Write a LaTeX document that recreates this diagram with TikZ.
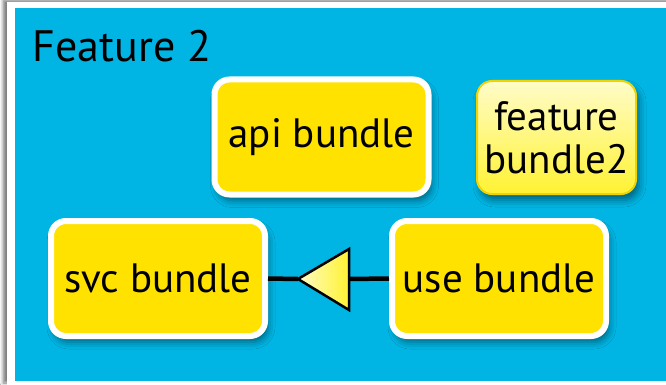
\documentclass[tikz,border=0pt]{standalone}
\usepackage{fontspec}
\setmainfont{PT Sans}
\usetikzlibrary{shadows.blur}
\definecolor{bgblue}{RGB}{0,181,228}
\definecolor{boxyellow}{RGB}{255,226,0}
\definecolor{paleyellow}{RGB}{255,252,200}
\definecolor{brightyellow}{RGB}{255,242,50}
\definecolor{edgeyellow}{RGB}{240,212,0}
\begin{document}
\begin{tikzpicture}[x=1pt,y=-1pt,
  bundle/.style={rectangle, rounded corners=15pt, draw=white, line width=6pt,
    fill=boxyellow, minimum width=214pt, minimum height=115pt, inner sep=0pt,
    font=\fontsize{41}{44}\selectfont,
    blur shadow={shadow xshift=3pt, shadow yshift=-6pt, shadow blur radius=7pt, shadow opacity=45}},
  featbox/.style={rectangle, rounded corners=15pt, draw=edgeyellow, line width=2pt,
    top color=paleyellow, bottom color=brightyellow, minimum width=159pt, minimum height=113pt,
    inner sep=0pt, align=center, font=\fontsize{41}{43}\selectfont,
    blur shadow={shadow xshift=3pt, shadow yshift=-6pt, shadow blur radius=7pt, shadow opacity=45}},
  link/.style={line width=4.5pt, draw=black}
]
\useasboundingbox (0,0) rectangle (666,385);
\fill[white] (0,0) rectangle (666,385);
\fill[white, blur shadow={shadow xshift=-4pt, shadow yshift=2pt, shadow blur radius=3pt, shadow opacity=50}] (7,2) rectangle (680,385);
\fill[bgblue] (15,8) rectangle (666,381);
\node[anchor=base west, font=\fontsize{44}{48}\selectfont] (title) at (29,62) {Feature 2};
\node[bundle] (api) at (321.5,137) {api bundle};
\node[featbox] (feat) at (556.5,137.5) {feature\\bundle2};
\node[bundle] (svc) at (158,278.5) {svc bundle};
\node[bundle] (use) at (499,278.5) {use bundle};
\coordinate (tip) at (298,279);
\coordinate (btop) at (349,249);
\coordinate (bbot) at (349,310);
\coordinate (bmid) at (349,279);
\draw[link] (svc.east) -- (tip);
\draw[link] (bmid) -- (use.west);
\draw[line width=2.5pt, line join=miter, left color=paleyellow, right color=brightyellow] (tip) -- (btop) -- (bbot) -- cycle;
\end{tikzpicture}
\end{document}
